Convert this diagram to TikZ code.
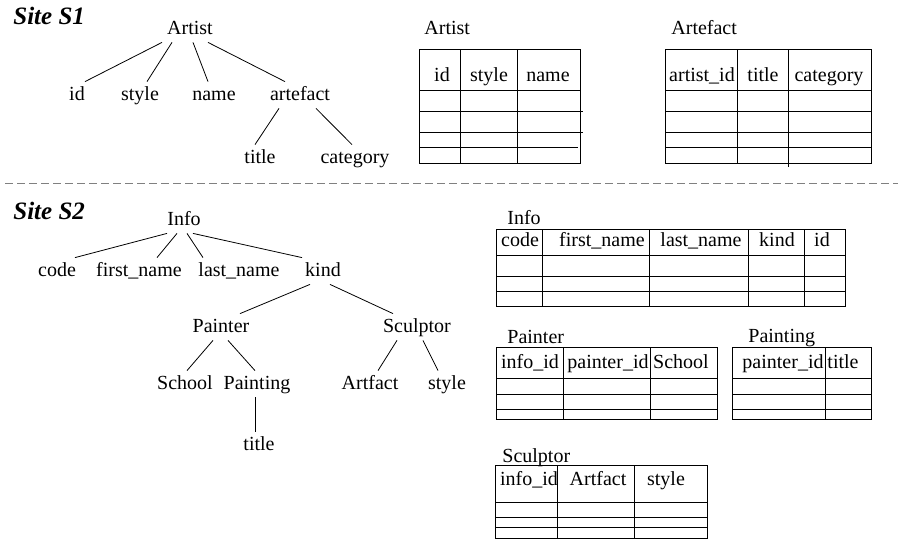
\documentclass[tikz,border=0pt]{standalone}
\usepackage{fontspec}
\setmainfont{Liberation Serif}
\usepackage{tikz}

\begin{document}
\begin{tikzpicture}[x=1pt, y=-1pt, line width=0.8pt,
    every node/.style={font=\fontsize{20}{24}\selectfont},
    tn/.style={anchor=base, inner xsep=2pt, inner ysep=3pt, text height=15pt, text depth=5pt},
    cell/.style={anchor=base, inner sep=0pt},
    lbl/.style={anchor=base west, inner sep=0pt},
    site/.style={anchor=base west, inner sep=0pt, font=\fontsize{25}{30}\selectfont\bfseries\itshape}]
\useasboundingbox (0,0) rectangle (898,549);

% Site S1
\node[site] (siteA) at (13,24) {Site S1};

\node[tn] (artist) at (190,34) {Artist};
\node[tn] (id) at (77,100) {id};
\node[tn] (style) at (140,100) {style};
\node[tn] (name) at (214,100) {name};
\node[tn] (artefact) at (300,100) {artefact};
\node[tn] (title) at (260,163) {title};
\node[tn] (category) at (355,163) {category};

\draw ([xshift=-28pt]artist.south) -- ([xshift=8pt]id.north);
\draw ([xshift=-18pt]artist.south) -- ([xshift=7pt]style.north);
\draw ([xshift=3pt]artist.south) -- ([xshift=-6pt]name.north);
\draw ([xshift=18pt]artist.south) -- ([xshift=-15pt]artefact.north);
\draw ([xshift=-21pt]artefact.south) -- ([xshift=-5pt]title.north);
\draw ([xshift=16pt]artefact.south) -- ([xshift=-3pt]category.north);

% Artist table
\node[lbl] (artisttab) at (424,34) {Artist};
\draw (419,49) rectangle (580,163);
\draw (460,49) -- (460,163) (517,49) -- (517,163);
\draw (419,90) -- (580,90) (419,111) -- (583,111) (419,132) -- (583,132) (419,147) -- (578,147);
\node[cell] (artistid) at (442,81) {id};
\node[cell] (artiststyle) at (489,81) {style};
\node[cell] (artistname) at (548,81) {name};

% Artefact table
\node[lbl] (artefacttab) at (671,34) {Artefact};
\draw (665,49) rectangle (871,163);
\draw (737,49) -- (737,163) (788,49) -- (788,167);
\draw (665,90) -- (871,90) (665,111) -- (871,111) (665,132) -- (871,132) (665,147) -- (871,147);
\node[cell] (artefactaid) at (702,81) {artist\_id};
\node[cell] (artefacttitle) at (763,81) {title};
\node[cell] (artefactcat) at (829,81) {category};

% separator
\draw[gray, dash pattern=on 7.5pt off 4.5pt] (5,183) -- (898,183);

% Site S2
\node[site] (siteB) at (13,219) {Site S2};

\node[tn] (info) at (184,225) {Info};
\node[tn] (code) at (57,276) {code};
\node[tn] (first) at (139,276) {first\_name};
\node[tn] (last) at (239,276) {last\_name};
\node[tn] (kind) at (323,276) {kind};
\node[tn] (painter) at (221,332) {Painter};
\node[tn] (sculptor) at (417,332) {Sculptor};
\node[tn] (school) at (185,389) {School};
\node[tn] (painting) at (257,389) {Painting};
\node[tn] (artfact) at (370,389) {Artfact};
\node[tn] (sstyle) at (447,389) {style};
\node[tn] (ptitle) at (259,450) {title};

\draw ([xshift=-17pt]info.south) -- ([xshift=18pt]code.north);
\draw ([xshift=-7pt]info.south) -- ([xshift=18pt]first.north);
\draw ([xshift=3pt]info.south) -- ([xshift=-36pt]last.north);
\draw ([xshift=9pt]info.south) -- ([xshift=-21pt]kind.north);
\draw ([xshift=-13pt]kind.south) -- ([xshift=19pt]painter.north);
\draw ([xshift=7pt]kind.south) -- ([xshift=-24pt]sculptor.north);
\draw ([xshift=-8pt]painter.south) -- ([xshift=2pt]school.north);
\draw ([xshift=7pt]painter.south) -- ([xshift=-2pt]painting.north);
\draw ([xshift=-20pt]sculptor.south) -- ([xshift=8pt]artfact.north);
\draw ([xshift=6pt]sculptor.south) -- ([xshift=-9pt]sstyle.north);
\draw ([xshift=-2pt]painting.south) -- ([xshift=-4pt]ptitle.north);

% Info table
\node[lbl] (infotab) at (507,224) {Info};
\draw (496,229) rectangle (845,306);
\draw (542,229) -- (542,306) (649,229) -- (649,306) (748,229) -- (748,306) (804,229) -- (804,306);
\draw (496,255) -- (845,255) (496,276) -- (845,276) (496,291) -- (845,291);
\node[cell] (infocode) at (520,246) {code};
\node[cell] (infofirst) at (602,246) {first\_name};
\node[cell] (infolast) at (701,246) {last\_name};
\node[cell] (infokind) at (777,246) {kind};
\node[cell] (infoid) at (822,246) {id};

% Painter table
\node[lbl] (paintertab) at (507,343) {Painter};
\draw (496,347) rectangle (717,419);
\draw (563,347) -- (563,419) (650,347) -- (650,419);
\draw (496,378) -- (717,378) (496,394) -- (717,394) (496,409) -- (717,409);
\node[cell] (painterinfo) at (530,368) {info\_id};
\node[cell] (painterpid) at (608,368) {painter\_id};
\node[cell] (painterschool) at (681,368) {School};

% Painting table
\node[lbl] (paintingtab) at (748,342) {Painting};
\draw (732,347) rectangle (871,419);
\draw (825,347) -- (825,419);
\draw (732,378) -- (871,378) (732,394) -- (871,394) (732,409) -- (871,409);
\node[cell] (paintingpid) at (783,368) {painter\_id};
\node[cell] (paintingtitle) at (843,368) {title};

% Sculptor table
\node[lbl] (sculptortab) at (502,462) {Sculptor};
\draw (495,465) rectangle (707,538);
\draw (557,465) -- (557,538) (634,465) -- (634,538);
\draw (495,502) -- (707,502) (495,517) -- (707,517) (495,527) -- (707,527);
\node[cell] (sculptorinfo) at (529,485) {info\_id};
\node[cell] (sculptorart) at (598,485) {Artfact};
\node[cell] (sculptorstyle) at (666,485) {style};
\end{tikzpicture}
\end{document}
